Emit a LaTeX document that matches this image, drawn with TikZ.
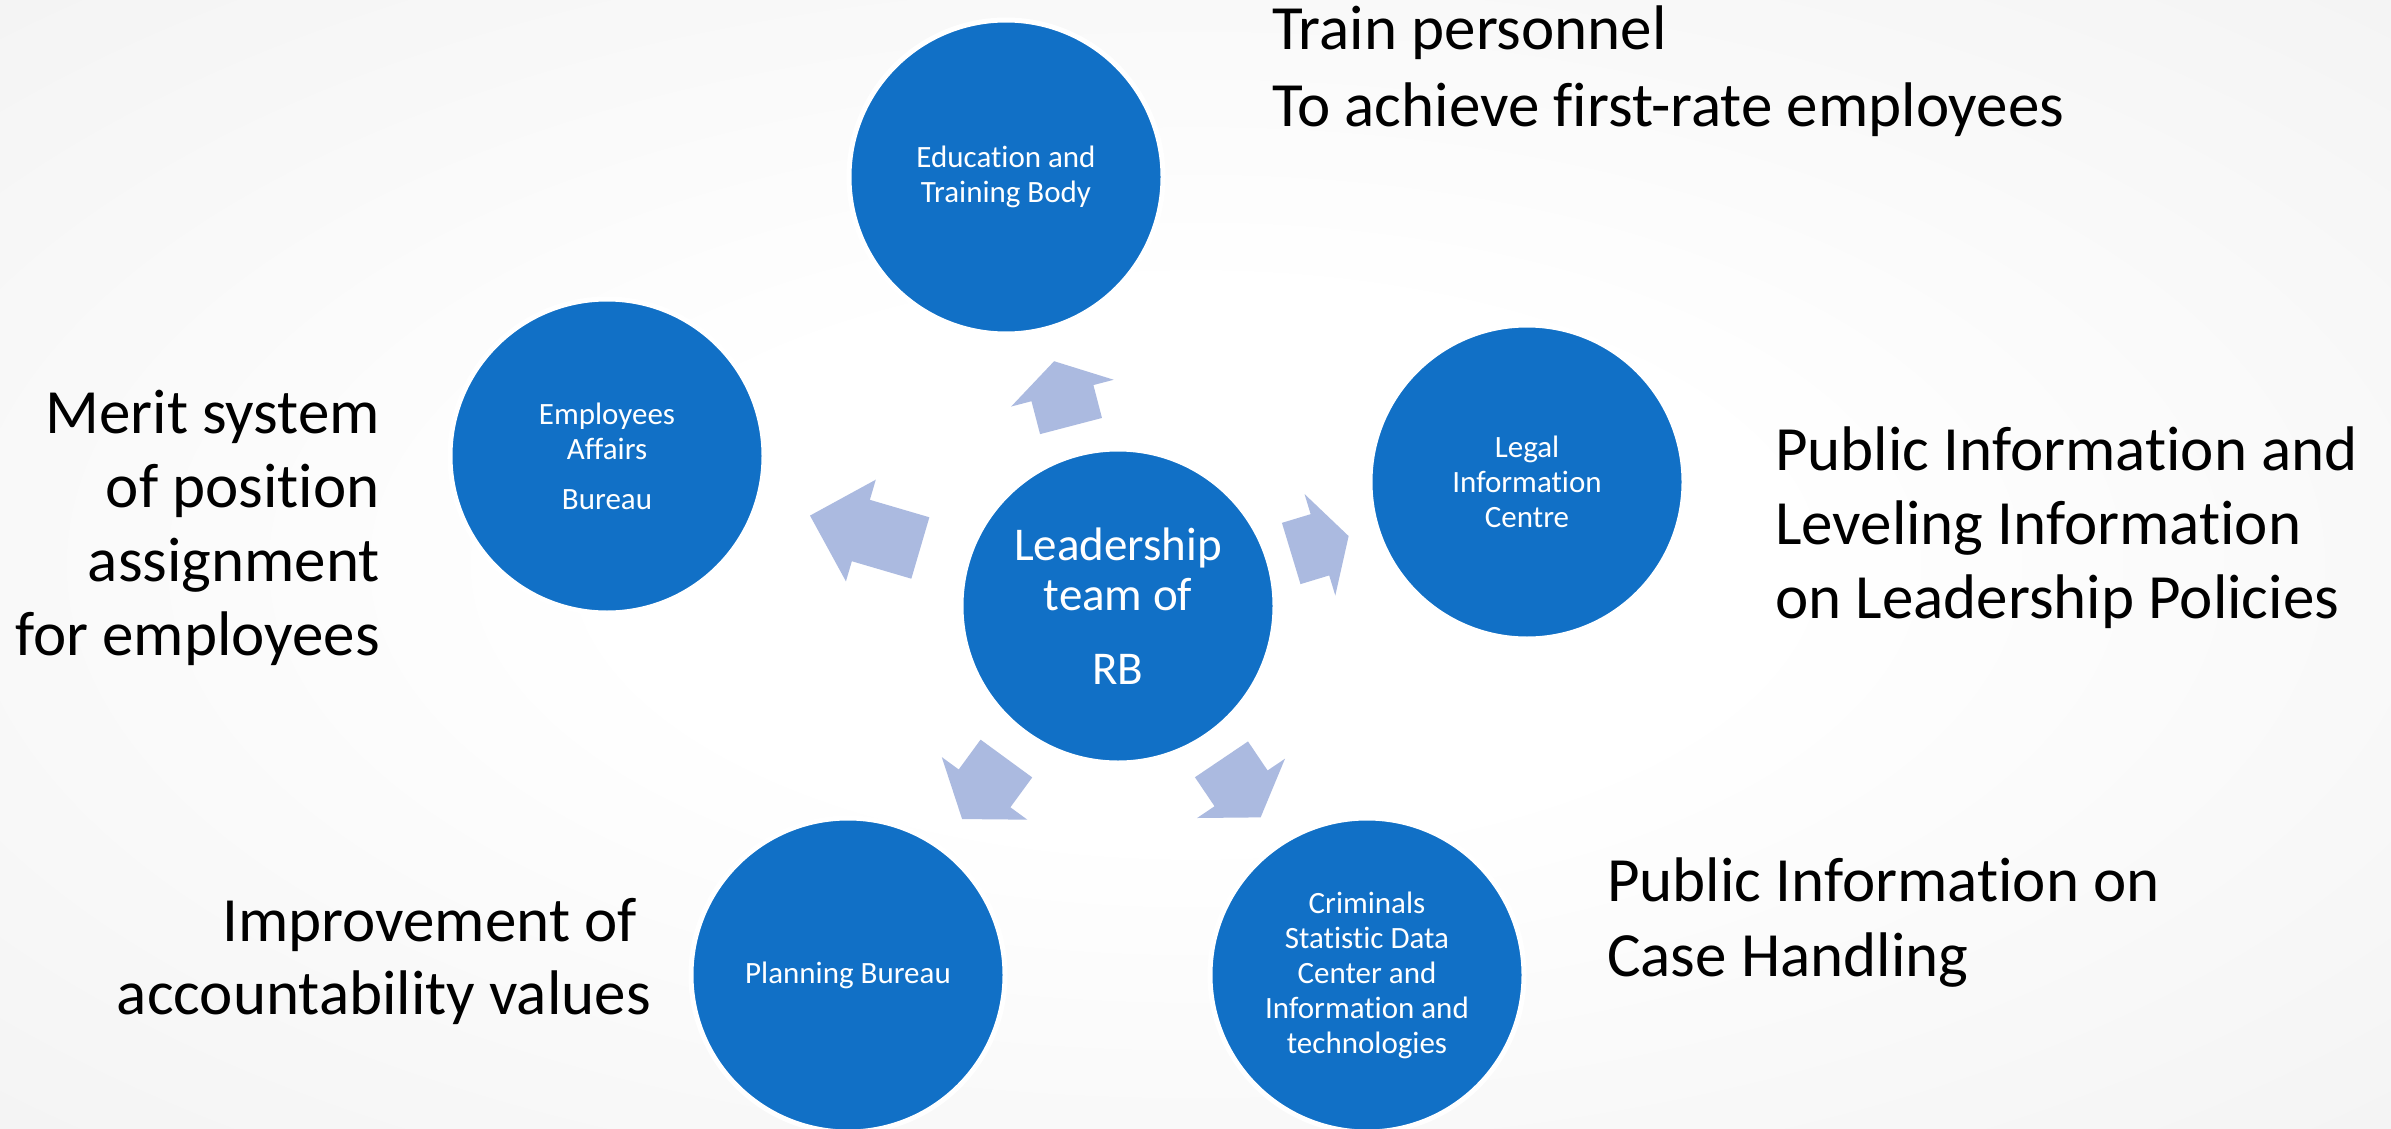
\documentclass[tikz,border=0pt]{standalone}
\usepackage{fontspec}
\setmainfont{Carlito}[Ligatures=NoCommon]
\usetikzlibrary{calc}
\definecolor{nodeblue}{HTML}{1170C6}
\definecolor{arrowblue}{HTML}{ABBAE0}
\definecolor{bgedge}{HTML}{EDEDED}
\pgfdeclareradialshading{bgshade}{\pgfpoint{0bp}{0bp}}{color(0bp)=(white); color(12bp)=(white); color(50bp)=(bgedge)}
\begin{document}
\begin{tikzpicture}[x=1pt,y=-1pt,
  unit/.style={circle, fill=nodeblue, draw=white, line width=5pt, minimum size=314pt,
    inner sep=0pt, text=white, align=center, font=\fontsize{31}{35}\selectfont},
  hub/.style={unit, font=\fontsize{47}{50}\selectfont},
  note/.style={font=\fontsize{63}{#1}\selectfont, text=black, inner sep=0pt},
  note/.default=74,
  blockarrow/.style={fill=arrowblue, draw=none}]
\shade[shading=bgshade] (0,0) rectangle (2391,1129);
\useasboundingbox (0,0) rectangle (2391,1129);

% nodes
\node[hub] (hub) at (1118,606) {Leadership\\team of\\[24pt]RB};
\node[unit] (edu) at (1006,177) {Education and\\Training Body};
\node[unit] (emp) at (607,456) {Employees\\Affairs\\[15pt]Bureau};
\node[unit] (legal) at (1527,482) {Legal\\Information\\Centre};
\node[unit] (plan) at (848,975) {Planning Bureau};
\node[unit] (crim) at (1367,975) {Criminals\\Statistic Data\\Center and\\Information and\\technologies};

% block arrows from the hub towards each unit
\foreach \target/\bd/\hd/\td in {edu/186/220/253, emp/206/268/321, legal/181/211/241, plan/189/226/264, crim/185/220/255} {
  \coordinate (\target-b) at ($(hub.center)!\bd pt!(\target.center)$);
  \coordinate (\target-h) at ($(hub.center)!\hd pt!(\target.center)$);
  \coordinate (\target-t) at ($(hub.center)!\td pt!(\target.center)$);
  \fill[blockarrow] ($(\target-b)!32pt!90:(\target-t)$) -- ($(\target-h)!32pt!90:(\target-t)$)
    -- ($(\target-h)!53pt!90:(\target-t)$) -- (\target-t)
    -- ($(\target-h)!53pt!-90:(\target-t)$) -- ($(\target-h)!32pt!-90:(\target-t)$)
    -- ($(\target-b)!32pt!-90:(\target-t)$) -- cycle;
}

% notes (anchor = baseline of the last line)
\node[note=77, anchor=base west, align=left] (train) at (1272,127) {Train personnel\\To achieve first-rate employees};
\node[note=74, anchor=base east, align=right] (merit) at (380,655) {Merit system\\of position\\assignment\\for employees};
\node[note=74, anchor=base west, align=left] (pubinfo) at (1775,618) {Public Information and\\Leveling Information\\on Leadership Policies};
\node[note=73, anchor=base east, align=right] (improve) at (651,1014) {Improvement of\kern14pt\\accountability values};
\node[note=75, anchor=base west, align=left] (casenote) at (1607,976) {Public Information on\\Case Handling};
\end{tikzpicture}
\end{document}
